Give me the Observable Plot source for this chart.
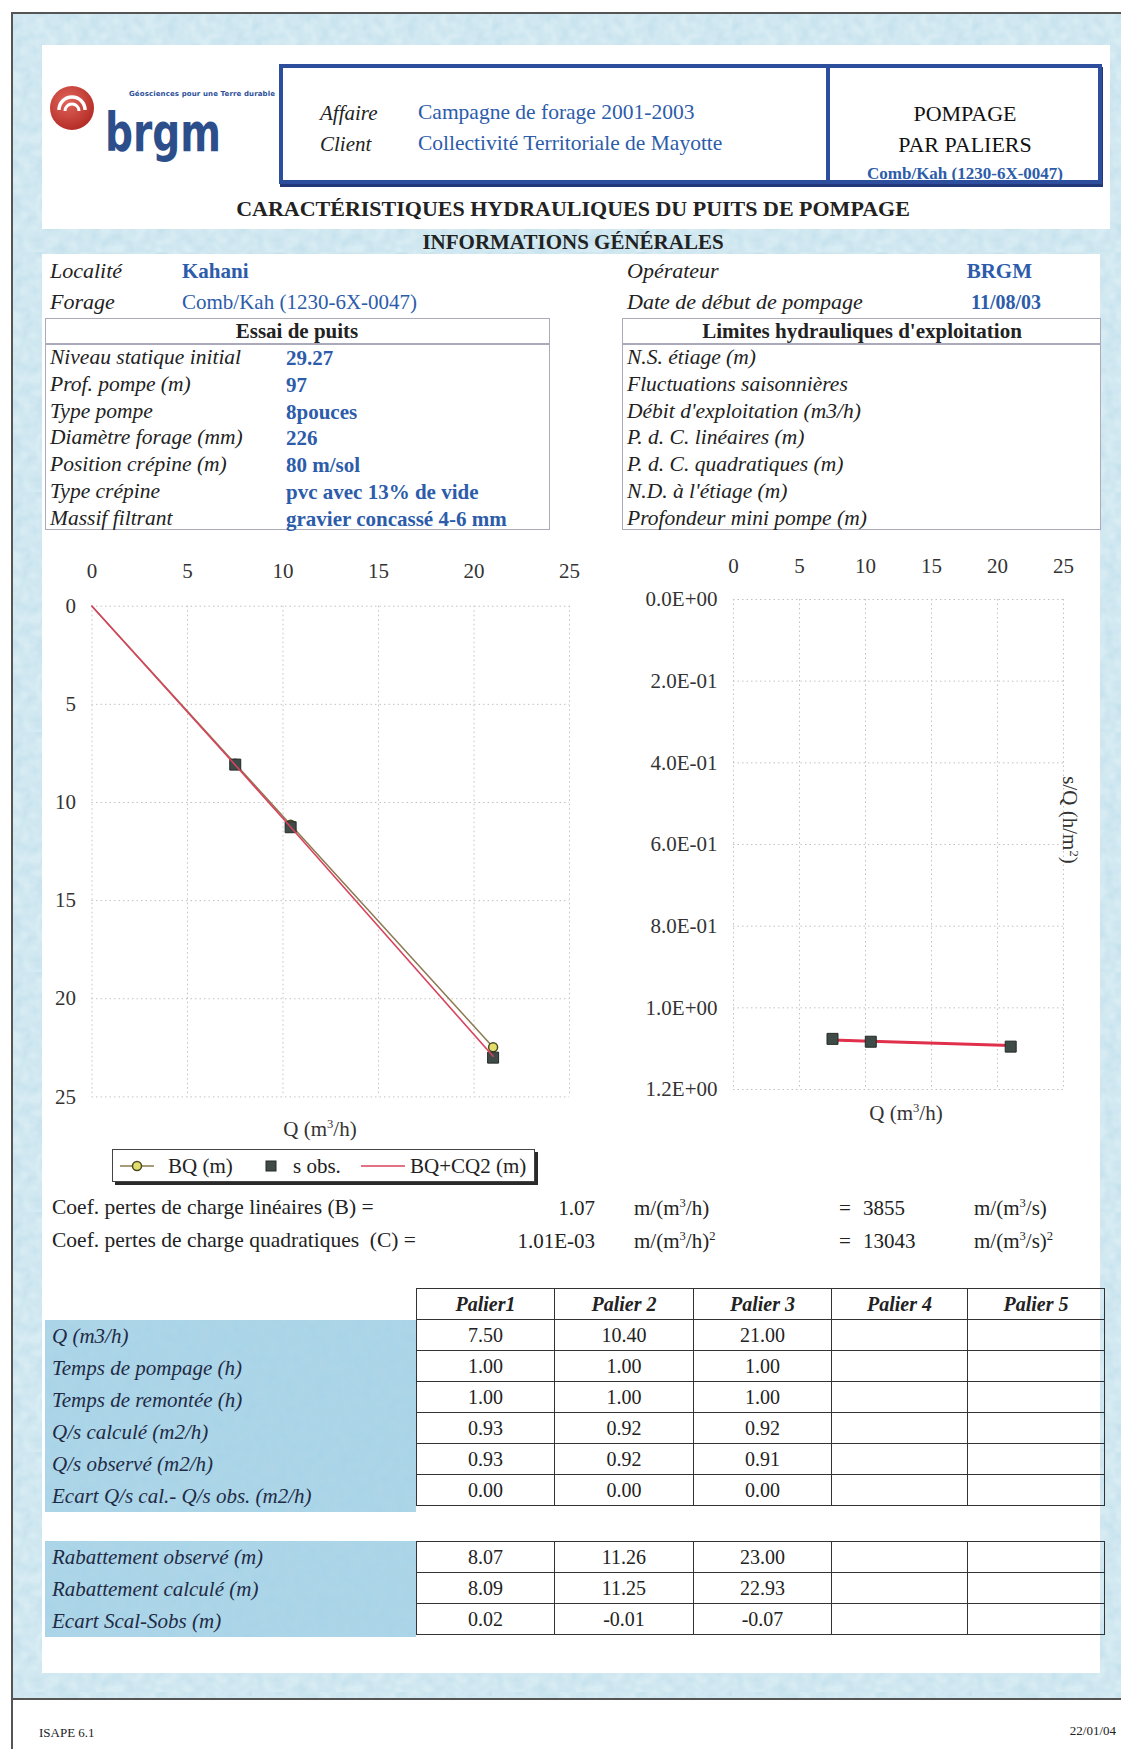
<!DOCTYPE html>
<html><head><meta charset="utf-8">
<script src="https://cdn.jsdelivr.net/npm/d3@7"></script>
<script src="https://cdn.jsdelivr.net/npm/@observablehq/plot@0.6"></script>
<style>
html,body{margin:0;padding:0;background:#fff;}
#page{position:relative;width:1121px;height:1749px;overflow:hidden;font-family:"Liberation Serif","Times New Roman",serif;color:#222;background:#fff;}
.abs{position:absolute;white-space:nowrap;line-height:1;}
.box{position:absolute;box-sizing:border-box;}
sup{font-size:0.6em;vertical-align:0.6em;line-height:0;}
table.t{position:absolute;border-collapse:collapse;font-family:"Liberation Serif",serif;font-size:20px;color:#222;}
table.t td{border:1.6px solid #333;text-align:center;padding:0;height:30px;line-height:1;}
</style></head>
<body><div id="page"></div>
<script>
// ---------------- DATA ----------------
const qObs = [7.5, 10.4, 21.0];                 // débits des paliers (m3/h)
const sObs = [8.07, 11.26, 23.00];              // rabattement observé (m)
const sCalc = [8.09, 11.25, 22.93];             // rabattement calculé (m)
const sEcart = [0.02, -0.01, -0.07];
const qLine = [0, 7.5, 10.4, 21.0];             // courbes depuis l'origine
const bqLine = [0, 8.03, 11.13, 22.47];         // BQ (m)
const bqcq2Line = [0, 8.09, 11.25, 22.93];      // BQ+CQ2 (m)
const sOverQObs = [1.076, 1.083, 1.095];        // s/Q observé (h/m2)
const sOverQCalc = [1.079, 1.082, 1.092];       // s/Q calculé (h/m2)
const xTicks = [0, 5, 10, 15, 20, 25];
const yTicksLeft = [0, 5, 10, 15, 20, 25];
const yTicksRight = [0, 0.2, 0.4, 0.6, 0.8, 1.0, 1.2];
const yTickLabelsRight = ["0.0E+00","2.0E-01","4.0E-01","6.0E-01","8.0E-01","1.0E+00","1.2E+00"];
const paliers = ["Palier1","Palier 2","Palier 3","Palier 4","Palier 5"];
const rowLabels1 = ["Q (m3/h)","Temps de pompage (h)","Temps de remontée (h)","Q/s calculé (m2/h)","Q/s observé (m2/h)","Ecart Q/s cal.- Q/s obs. (m2/h)"];
const tPompage = [1.00, 1.00, 1.00];
const tRemontee = [1.00, 1.00, 1.00];
const qsCalc = [0.93, 0.92, 0.92];
const qsObsv = [0.93, 0.92, 0.91];
const qsEcart = [0.00, 0.00, 0.00];
const rowLabels2 = ["Rabattement observé (m)","Rabattement calculé (m)","Ecart Scal-Sobs (m)"];
const essaiLabels = ["Niveau statique initial","Prof. pompe (m)","Type pompe","Diamètre  forage (mm)","Position crépine (m)","Type crépine","Massif filtrant"];
const essaiValues = ["29.27","97","8pouces","226","80 m/sol","pvc avec 13% de vide","gravier concassé 4-6 mm"];
const limitesLabels = ["N.S. étiage (m)","Fluctuations saisonnières","Débit d'exploitation (m3/h)","P. d. C. linéaires (m)","P. d. C. quadratiques (m)","N.D. à l'étiage (m)","Profondeur mini pompe (m)"];
const coefB = "1.07", coefBs = "3855", coefC = "1.01E-03", coefCs = "13043";

// ---------------- LAYOUT HELPERS ----------------
const page = document.getElementById("page");
const BLUE_TXT = "#2c5caa";
const NOISE = `url("data:image/svg+xml,%3Csvg xmlns='http://www.w3.org/2000/svg' width='240' height='240'%3E%3Cfilter id='n'%3E%3CfeTurbulence type='fractalNoise' baseFrequency='0.09' numOctaves='2' seed='3'/%3E%3CfeColorMatrix values='0 0 0 0 0.45 0 0 0 0 0.68 0 0 0 0 0.8 0 0 0 0.9 -0.25'/%3E%3C/filter%3E%3Crect width='240' height='240' filter='url(%23n)'/%3E%3C/svg%3E")`;
function rect(x, y, w, h, style) {
  const d = document.createElement("div"); d.className = "box";
  Object.assign(d.style, {left: x + "px", top: y + "px", width: w + "px", height: h + "px"}, style);
  page.appendChild(d); return d;
}
function txt(s, x, y, o = {}) {
  const d = document.createElement("div"); d.className = "abs"; d.innerHTML = s;
  const tx = o.anchor === "middle" ? "-50%" : o.anchor === "end" ? "-100%" : "0";
  d.style.left = x + "px"; d.style.top = y + "px";
  d.style.transform = `translate(${tx},-50%)` + (o.extra || "");
  d.style.fontSize = (o.size || 22) + "px";
  if (o.italic) d.style.fontStyle = "italic";
  if (o.bold) d.style.fontWeight = "bold";
  if (o.color) d.style.color = o.color;
  if (o.ls) d.style.letterSpacing = o.ls + "px";
  if (o.font) d.style.fontFamily = o.font;
  page.appendChild(d); return d;
}

// ---------------- BACKGROUND ----------------
rect(12, 12, 1109, 1687, {backgroundColor: "#d8ecf3", backgroundImage: NOISE});
rect(42, 45, 1068, 184, {background: "#fff"});
rect(42, 254, 1058, 1419, {background: "#fff"});
rect(45, 1320, 371, 192, {backgroundColor: "#a9d4e8", backgroundImage: NOISE});
rect(45, 1541, 371, 96, {backgroundColor: "#a9d4e8", backgroundImage: NOISE});
rect(12, 12, 1109, 2, {background: "#555"});
rect(11, 12, 2, 1737, {background: "#555"});
rect(12, 1698, 1109, 2, {background: "#555"});

// ---------------- HEADER ----------------
const logo = document.createElementNS("http://www.w3.org/2000/svg", "svg");
logo.setAttribute("width", 240); logo.setAttribute("height", 110);
logo.style.position = "absolute"; logo.style.left = "45px"; logo.style.top = "80px";
logo.innerHTML = `<defs><radialGradient id="rg" cx="40%" cy="35%" r="70%"><stop offset="0%" stop-color="#e0655a"/><stop offset="100%" stop-color="#b22a24"/></radialGradient></defs>
<circle cx="27" cy="28" r="22" fill="url(#rg)"/>
<path d="M14 30 A13 13 0 0 1 40 30" fill="none" stroke="#fff" stroke-width="3.5"/>
<path d="M20 31 A7 7 0 0 1 34 31" fill="none" stroke="#fff" stroke-width="3"/>
<text x="84" y="16" font-family="DejaVu Sans" font-weight="bold" font-size="7" fill="#2c4f9a" textLength="146">Géosciences pour une Terre durable</text>
<text x="60" y="71" font-family="DejaVu Sans" font-weight="bold" font-size="53" fill="#2c4f8c" textLength="116" lengthAdjust="spacingAndGlyphs">brgm</text>`;
page.appendChild(logo);

rect(279, 64, 823, 120, {border: "4px solid #2d4e9c", boxShadow: "1px 3px 0 #22387a", background: "#fff"});
rect(826, 64, 4, 120, {background: "#2d4e9c"});
txt("Affaire", 320, 113, {italic: true, size: 21});
txt("Client", 320, 144, {italic: true, size: 21});
txt("Campagne de forage 2001-2003", 418, 113, {color: BLUE_TXT, size: 21.5});
txt("Collectivité Territoriale de Mayotte", 418, 144, {color: BLUE_TXT, size: 21.5});
txt("POMPAGE", 965, 114, {anchor: "middle", size: 22, color: "#111"});
txt("PAR PALIERS", 965, 145, {anchor: "middle", size: 22, color: "#111"});
txt("Comb/Kah (1230-6X-0047)", 965, 173, {anchor: "middle", size: 17, bold: true, color: BLUE_TXT});

txt("CARACTÉRISTIQUES HYDRAULIQUES DU PUITS DE POMPAGE", 573, 209, {anchor: "middle", bold: true, size: 22});
txt("INFORMATIONS GÉNÉRALES", 573, 242, {anchor: "middle", bold: true, size: 21});

// ---------------- INFORMATIONS ----------------
txt("Localité", 50, 271, {italic: true});
txt("Kahani", 182, 271, {bold: true, color: BLUE_TXT, size: 21});
txt("Forage", 50, 302, {italic: true});
txt("Comb/Kah (1230-6X-0047)", 182, 302, {color: BLUE_TXT, size: 21});
txt("Opérateur", 627, 271, {italic: true});
txt("BRGM", 1032, 271, {anchor: "end", bold: true, color: BLUE_TXT, size: 21});
txt("Date de début de pompage", 627, 302, {italic: true});
txt("11/08/03", 1041, 302, {anchor: "end", bold: true, color: BLUE_TXT, size: 20});

rect(45, 318, 505, 212, {border: "1.5px solid #aab"});
rect(45, 343, 505, 1.5, {background: "#aab"});
txt("Essai de puits", 297, 331, {anchor: "middle", bold: true, size: 21});
rect(622, 318, 479, 212, {border: "1.5px solid #aab"});
rect(622, 343, 479, 1.5, {background: "#aab"});
txt("Limites hydrauliques d'exploitation", 862, 331, {anchor: "middle", bold: true, size: 21});
essaiLabels.forEach((l, i) => {
  const y = 358 + i * 26.8;
  txt(l, 50, y, {italic: true, size: 21.5});
  txt(essaiValues[i], 286, y, {bold: true, color: BLUE_TXT, size: 21});
});
limitesLabels.forEach((l, i) => txt(l, 627, 358 + i * 26.8, {italic: true, size: 21.5}));

// ---------------- CHARTS ----------------
const lineData = qLine.map((q, i) => ({q, bq: bqLine[i], bqcq2: bqcq2Line[i]}));
const obsData = qObs.map((q, i) => ({q, s: sObs[i], bq: bqLine[i + 1], sqo: sOverQObs[i], sqc: sOverQCalc[i]}));
const gridStyle = {stroke: "#c2c2c2", strokeDasharray: "1.5,3", strokeWidth: 1};
const axisStyle = {fontFamily: "Liberation Serif, serif", fontSize: "21px", color: "#333", background: "transparent", overflow: "visible"};

const left = Plot.plot({
  width: 580, height: 600,
  marginLeft: 71.5, marginRight: 31, marginTop: 65.7, marginBottom: 43.6,
  style: axisStyle,
  x: {domain: [0, 25], axis: "top", ticks: xTicks, tickSize: 0, tickPadding: 28, label: null},
  y: {domain: [0, 25], reverse: true, ticks: yTicksLeft, tickSize: 0, tickPadding: 16, label: null},
  marks: [
    Plot.ruleX(xTicks, {x: d => d, ...gridStyle}),
    Plot.ruleY(yTicksLeft, {y: d => d, ...gridStyle}),
    Plot.line(lineData, {x: "q", y: "bq", stroke: "#8a7a50", strokeWidth: 1.5}),
    Plot.dot(obsData, {x: "q", y: "bq", r: 4.5, fill: "#e2de6c", stroke: "#4a4a20", strokeWidth: 1.5}),
    Plot.dot(obsData, {x: "q", y: "s", symbol: "square", r: 6.2, fill: "#3e4b47", stroke: "#252b29", strokeWidth: 1}),
    Plot.line(lineData, {x: "q", y: "bqcq2", stroke: "#d9435e", strokeWidth: 1.6})
  ]
});
left.style.position = "absolute"; left.style.left = "20px"; left.style.top = "540px";
page.appendChild(left);

const right = Plot.plot({
  width: 490, height: 600,
  marginLeft: 113, marginRight: 47, marginTop: 59, marginBottom: 51,
  style: axisStyle,
  x: {domain: [0, 25], axis: "top", ticks: xTicks, tickSize: 0, tickPadding: 27, label: null},
  y: {domain: [0, 1.2], reverse: true, ticks: yTicksRight, tickSize: 0, tickPadding: 16, label: null,
      tickFormat: d => yTickLabelsRight[yTicksRight.indexOf(d)]},
  marks: [
    Plot.ruleX(xTicks, {x: d => d, ...gridStyle}),
    Plot.ruleY(yTicksRight, {y: d => d, ...gridStyle}),
    Plot.line(obsData, {x: "q", y: "sqc", stroke: "#e0304c", strokeWidth: 3}),
    Plot.dot(obsData, {x: "q", y: "sqo", symbol: "square", r: 6.2, fill: "#3e4b47", stroke: "#252b29", strokeWidth: 1})
  ]
});
right.style.position = "absolute"; right.style.left = "620px"; right.style.top = "540px";
page.appendChild(right);

txt("Q (m<sup>3</sup>/h)", 320, 1129, {anchor: "middle", size: 21, color: "#333"});
txt("Q (m<sup>3</sup>/h)", 906, 1113, {anchor: "middle", size: 21, color: "#333"});
txt("s/Q (h/m<sup>2</sup>)", 1069, 820, {anchor: "middle", size: 21, color: "#333", extra: " rotate(90deg)"});

// legend
const lg = document.createElementNS("http://www.w3.org/2000/svg", "svg");
lg.setAttribute("width", 421); lg.setAttribute("height", 31);
Object.assign(lg.style, {position: "absolute", left: "112px", top: "1149px", background: "#fff", border: "1px solid #444", boxShadow: "3px 3px 0 #2a2a2a"});
lg.innerHTML = `<line x1="7" x2="41" y1="16" y2="16" stroke="#8a7a50" stroke-width="1.5"/>
<circle cx="24" cy="16" r="4.5" fill="#e2de6c" stroke="#4a4a20" stroke-width="1.5"/>
<text x="55" y="23" font-family="Liberation Serif" font-size="21" fill="#222">BQ (m)</text>
<rect x="153" y="11" width="10" height="10" fill="#3e4b47" stroke="#252b29"/>
<text x="180" y="23" font-family="Liberation Serif" font-size="21" fill="#222">s obs.</text>
<line x1="248" x2="292" y1="16" y2="16" stroke="#d9435e" stroke-width="1.6"/>
<text x="297" y="23" font-family="Liberation Serif" font-size="21" fill="#222">BQ+CQ2 (m)</text>`;
page.appendChild(lg);

// ---------------- COEFFICIENTS ----------------
txt("Coef. pertes de charge linéaires (B) =", 52, 1208, {size: 21.5});
txt(coefB, 595, 1208, {anchor: "end", size: 21});
txt("m/(m<sup>3</sup>/h)", 634, 1208, {size: 21});
txt("=", 839, 1208, {size: 21});
txt(coefBs, 863, 1208, {size: 21});
txt("m/(m<sup>3</sup>/s)", 974, 1208, {size: 21});
txt("Coef. pertes de charge quadratiques&nbsp; (C) =", 52, 1241, {size: 21.5});
txt(coefC, 595, 1241, {anchor: "end", size: 21});
txt("m/(m<sup>3</sup>/h)<sup>2</sup>", 634, 1241, {size: 21});
txt("=", 839, 1241, {size: 21});
txt(coefCs, 863, 1241, {size: 21});
txt("m/(m<sup>3</sup>/s)<sup>2</sup>", 974, 1241, {size: 21});

// ---------------- TABLES ----------------
const colW = [138, 139, 138, 136, 137];
function makeTable(top, rows, header) {
  const t = document.createElement("table"); t.className = "t";
  t.style.left = "416px"; t.style.top = top + "px";
  let html = "<colgroup>" + colW.map(w => `<col style="width:${w}px">`).join("") + "</colgroup>";
  if (header) html += "<tr>" + header.map(h => `<td style="font-style:italic;font-weight:bold">${h}</td>`).join("") + "</tr>";
  rows.forEach(r => { html += "<tr>" + [0,1,2,3,4].map(i => `<td>${r[i] !== undefined ? r[i].toFixed(2) : ""}</td>`).join("") + "</tr>"; });
  t.innerHTML = html; page.appendChild(t);
}
makeTable(1288, [qObs, tPompage, tRemontee, qsCalc, qsObsv, qsEcart], paliers);
makeTable(1541, [sObs, sCalc, sEcart], null);
rowLabels1.forEach((l, i) => txt(l, 52, 1336 + i * 32, {italic: true, size: 21, color: "#1f2b45"}));
rowLabels2.forEach((l, i) => txt(l, 52, 1557 + i * 32, {italic: true, size: 21, color: "#1f2b45"}));

// ---------------- FOOTER ----------------
txt("ISAPE 6.1", 39, 1732, {size: 13});
txt("22/01/04", 1116, 1730, {anchor: "end", size: 13});
</script>
</body></html>
